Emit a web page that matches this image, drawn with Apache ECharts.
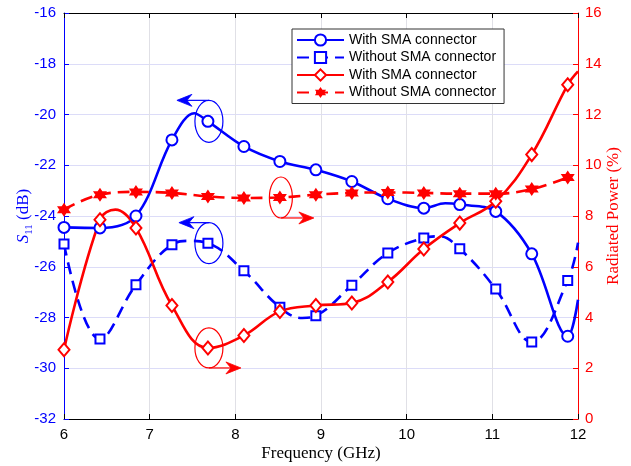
<!DOCTYPE html>
<html><head><meta charset="utf-8">
<script src="https://cdn.jsdelivr.net/npm/echarts@6/dist/echarts.min.js"></script>
<style>html,body{margin:0;padding:0;background:#fff}#c{width:631px;height:466px}</style>
</head><body><div id="c"></div>
<script>
// ---- data ----
const freqMarkers = [6.0, 6.42, 6.84, 7.26, 7.68, 8.1, 8.52, 8.94, 9.36, 9.78, 10.2, 10.62, 11.04, 11.46, 11.88];
const s11With      = [-24.45, -24.47, -24.0, -21.0, -20.27, -21.26, -21.85, -22.18, -22.64, -23.32, -23.69, -23.55, -23.82, -25.49, -28.74];
const s11WithCurve = [[7.52, -19.95], [10.45, -23.5], [12.0, -27.3]];
const s11Without      = [-25.1, -28.85, -26.71, -25.13, -25.07, -26.16, -27.6, -27.93, -26.73, -25.46, -24.87, -25.29, -26.88, -28.97, -26.54];
const s11WithoutCurve = [[7.47, -24.98], [8.78, -28.02], [10.38, -24.8], [12.0, -25.05]];
const radWith      = [2.73, 7.85, 7.53, 4.47, 2.80, 3.29, 4.24, 4.47, 4.57, 5.40, 6.70, 7.72, 8.58, 10.42, 13.17];
const radWithCurve = [[6.6, 8.25], [12.0, 13.7]];
const radWithout   = [8.25, 8.84, 8.95, 8.91, 8.77, 8.71, 8.73, 8.84, 8.91, 8.93, 8.91, 8.88, 8.88, 9.06, 9.52];
const seriesNames = ['With SMA connector', 'Without SMA connector', 'With SMA connector\u200b', 'Without SMA connector\u200b'];
// annotation anchors: [x, y, yAxisIndex]
const annotAnchors = [[7.68, -20.27, 0], [7.68, -25.07, 0], [7.68, 2.80, 1], [8.52, 8.73, 1]];

// ---- styling ----
const BLUE = '#0000ff', RED = '#ff0000';
const hexagram = 'path://M0,-10L8.66,5L-8.66,5Z M0,10L-8.66,-5L8.66,-5Z';

function build(markers, vals, curve) {
  const pts = markers.map((x, i) => ({ value: [x, vals[i]] }));
  curve.forEach(p => pts.push({ value: p, symbol: 'none' }));
  pts.sort((a, b) => a.value[0] - b.value[0]);
  return pts;
}

const chart = echarts.init(document.getElementById('c'), null, { renderer: 'canvas' });
const sansFont = 'Liberation Sans';
const serifFont = 'Liberation Serif';

chart.setOption({
  animation: false,
  backgroundColor: '#fff',
  grid: { left: 64, right: 53, top: 13, bottom: 47, containLabel: false, outerBoundsMode: 'none' },
  legend: {
    orient: 'vertical', left: 292, top: 29,
    padding: [4, 8, 4, 4], itemWidth: 47, itemHeight: 14, itemGap: 3.5,
    backgroundColor: '#fff', borderColor: '#333', borderWidth: 1,
    textStyle: { fontFamily: sansFont, fontSize: 14, color: '#000' },
    formatter: n => n.replace(/\u200b/g, ''),
    data: seriesNames
  },
  xAxis: [{
    type: 'value', min: 6, max: 12, interval: 1,
    name: 'Frequency (GHz)', nameLocation: 'middle', nameGap: 26, nameMoveOverlap: false,
    nameTextStyle: { fontFamily: serifFont, fontSize: 17, color: '#000' },
    axisLine: { lineStyle: { color: '#000', width: 1 } },
    axisTick: { inside: true, length: 5, lineStyle: { color: '#000' } },
    axisLabel: { fontFamily: sansFont, fontSize: 15, color: '#000', margin: 8 },
    splitLine: { show: true, lineStyle: { color: '#e0e0e6', width: 1 } }
  }, {
    type: 'value', min: 6, max: 12, interval: 1, position: 'top',
    axisLine: { lineStyle: { color: '#000', width: 1 } },
    axisTick: { inside: true, length: 5, lineStyle: { color: '#000' } },
    axisLabel: { show: false }, splitLine: { show: false }
  }],
  yAxis: [{
    type: 'value', min: -32, max: -16, interval: 2, position: 'left',
    name: '{it|S}{sub|11}{n| (dB)}', nameLocation: 'middle', nameGap: 29, nameMoveOverlap: false,
    nameTextStyle: {
      color: BLUE, fontFamily: serifFont, fontSize: 17,
      rich: {
        it: { fontFamily: serifFont, fontStyle: 'italic', fontSize: 17, color: BLUE, lineHeight: 22, verticalAlign: 'middle' },
        sub: { fontFamily: serifFont, fontSize: 11, color: BLUE, lineHeight: 22, verticalAlign: 'bottom' },
        n: { fontFamily: serifFont, fontSize: 17, color: BLUE, lineHeight: 22, verticalAlign: 'middle' }
      }
    },
    axisLine: { show: true, lineStyle: { color: BLUE, width: 1 } },
    axisTick: { show: true, inside: true, length: 5, lineStyle: { color: BLUE } },
    axisLabel: { fontFamily: sansFont, fontSize: 15, color: BLUE, margin: 8 },
    splitLine: { show: true, lineStyle: { color: '#dcdcf8', width: 1 } }
  }, {
    type: 'value', min: 0, max: 16, interval: 2, position: 'right',
    name: 'Radiated Power (%)', nameLocation: 'middle', nameGap: 27, nameMoveOverlap: false,
    nameTextStyle: { color: RED, fontFamily: serifFont, fontSize: 17 },
    axisLine: { show: true, lineStyle: { color: RED, width: 1 } },
    axisTick: { show: true, inside: true, length: 5, lineStyle: { color: RED } },
    axisLabel: { fontFamily: sansFont, fontSize: 15, color: RED, margin: 7 },
    splitLine: { show: false }
  }],
  series: [{
    name: seriesNames[0], type: 'line', yAxisIndex: 0, smooth: 0.35,
    data: build(freqMarkers, s11With, s11WithCurve),
    symbol: 'emptyCircle', symbolSize: 11,
    lineStyle: { color: BLUE, width: 2.6 },
    itemStyle: { color: BLUE, borderWidth: 2 }
  }, {
    name: seriesNames[1], type: 'line', yAxisIndex: 0, smooth: 0.4,
    data: build(freqMarkers, s11Without, s11WithoutCurve),
    symbol: 'emptyRect', symbolSize: 9,
    lineStyle: { color: BLUE, width: 2.6, type: [12, 7] },
    itemStyle: { color: BLUE, borderWidth: 2.2 }
  }, {
    name: seriesNames[2], type: 'line', yAxisIndex: 1, smooth: 0.4,
    data: build(freqMarkers, radWith, radWithCurve),
    symbol: 'emptyDiamond', symbolSize: [11, 13],
    lineStyle: { color: RED, width: 2.6 },
    itemStyle: { color: RED, borderWidth: 2 }
  }, {
    name: seriesNames[3], type: 'line', yAxisIndex: 1, smooth: 0.4,
    data: build(freqMarkers, radWithout, []),
    symbol: hexagram, symbolSize: 14,
    lineStyle: { color: RED, width: 2.6, type: [12, 7] },
    itemStyle: { color: RED, borderWidth: 0 }
  }]
});

// annotations: ellipses around marked points with arrows to the relevant axis
const annotStyle = [
  { color: BLUE, rx: 14, ry: 21, side: -1, dir: -1, len: 32 },
  { color: BLUE, rx: 14, ry: 20.5, side: -1, dir: -1, len: 30 },
  { color: RED, rx: 14, ry: 20, side: 1, dir: 1, len: 32 },
  { color: RED, rx: 11.5, ry: 20.5, side: 1, dir: 1, len: 33 }
];
const gfx = [];
annotAnchors.forEach((a, i) => {
  const s = annotStyle[i];
  const p = chart.convertToPixel({ xAxisIndex: 0, yAxisIndex: a[2] }, [a[0], a[1]]);
  const cx = p[0] + 1, cy = p[1];
  gfx.push({ type: 'ellipse', shape: { cx: cx, cy: cy, rx: s.rx, ry: s.ry }, style: { fill: 'none', stroke: s.color, lineWidth: 1.2 }, z: 100 });
  const y0 = cy + s.side * s.ry;
  const tip = cx + s.dir * s.len;
  gfx.push({ type: 'line', shape: { x1: cx, y1: y0, x2: tip - s.dir * 6, y2: y0 }, style: { stroke: s.color, lineWidth: 1.2 }, z: 100 });
  const d = s.dir;
  gfx.push({ type: 'polygon', shape: { points: [[tip, y0], [tip - d * 15, y0 - 6], [tip - d * 10, y0], [tip - d * 15, y0 + 6]] }, style: { fill: s.color, stroke: s.color, lineWidth: 0.8 }, z: 100 });
});
chart.setOption({ graphic: gfx });
</script>
</body></html>
